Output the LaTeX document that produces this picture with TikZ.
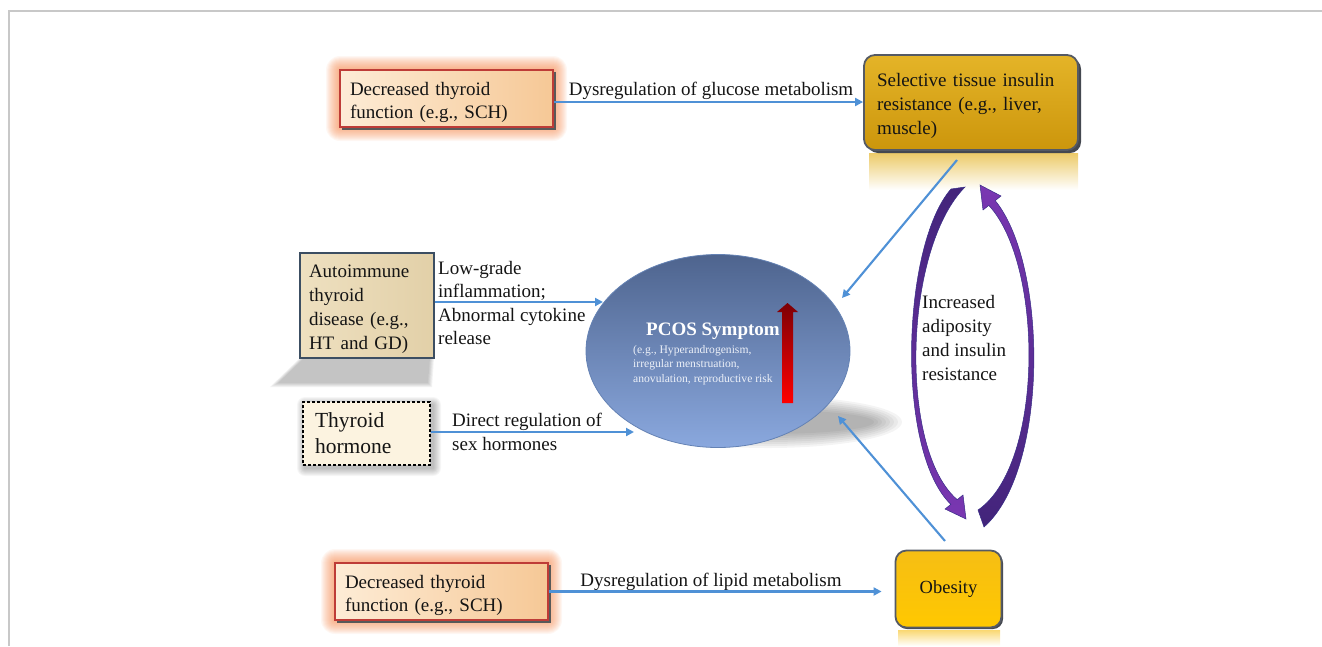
\documentclass[tikz,border=0pt]{standalone}
\usepackage{fontspec}
\setmainfont{Liberation Serif}
\usetikzlibrary{arrows.meta,shapes.geometric}
\definecolor{ablue}{RGB}{79,145,214}
\definecolor{txt}{RGB}{20,20,20}
\definecolor{framec}{RGB}{200,200,200}
\definecolor{glowc}{RGB}{245,135,75}
\definecolor{decred}{RGB}{190,60,55}
\definecolor{peachL}{RGB}{253,236,214}
\definecolor{peachR}{RGB}{246,200,150}
\definecolor{goldT}{RGB}{228,180,40}
\definecolor{goldB}{RGB}{204,150,12}
\definecolor{goldedge}{RGB}{85,90,100}
\definecolor{obT}{RGB}{246,190,20}
\definecolor{obB}{RGB}{255,200,0}
\definecolor{parch}{RGB}{238,224,192}
\definecolor{parchR}{RGB}{226,208,168}
\definecolor{aiedge}{RGB}{60,78,98}
\definecolor{thfill}{RGB}{252,243,224}
\definecolor{ellT}{RGB}{78,100,142}
\definecolor{ellB}{RGB}{138,168,222}
\definecolor{elledge}{RGB}{100,130,180}
\definecolor{pdark}{RGB}{66,36,122}
\definecolor{plight}{RGB}{122,55,178}
\definecolor{pedge}{RGB}{55,45,135}
\definecolor{smalltxt}{RGB}{236,240,248}
\newcommand\fntA{\fontsize{19}{23.5}\selectfont}
\newcommand\fntB{\fontsize{19}{24}\selectfont}
\newcommand\fntC{\fontsize{21.5}{26}\selectfont}
\newcommand\fntS{\fontsize{11.6}{14.6}\selectfont}
\newcommand\lift[1]{\rule{0pt}{#1}}
\begin{document}
\begin{tikzpicture}[x=1pt,y=-1pt,
  blueline/.style={draw=ablue, line width=2.1pt, -{Triangle[length=8pt,width=8pt]}},
  lbl/.style={font=\fntA, text=txt, inner sep=0pt, align=left},
  decbox/.style={rectangle, draw=decred, line width=1.3pt, left color=peachL, right color=peachR,
     minimum width=213pt, minimum height=57pt, text width=193pt, align=left, inner sep=0pt,
     font=\fntA, text=txt},
  goldbox/.style={rectangle, rounded corners=11pt, draw=goldedge, line width=1.8pt,
     top color=goldT, bottom color=goldB, inner sep=0pt, align=left, font=\fntB, text=txt},
  purplearc/.style={draw=pedge, line width=0.5pt}
]
\useasboundingbox (0,0) rectangle (1322,646);
% frame
\draw[framec, line width=1.3pt] (9,646) -- (9,11) -- (1322,11);

% glows of the two "decreased thyroid" boxes
\foreach \k in {1,...,14} {
  \fill[glowc, opacity=0.065, rounded corners=\k pt] ({340-\k},{70-\k}) rectangle ({553+\k},{127+\k});
  \fill[glowc, opacity=0.065, rounded corners=\k pt] ({335-\k},{563-\k}) rectangle ({548+\k},{620+\k});
}
\fill[black!65] (342,72) rectangle (555.5,129.5);
\fill[black!65] (337,565) rectangle (550.5,622.5);
\node[decbox] (dec1) at (446.5,98.5) {\lift{21pt}Decreased thyroid\\function (e.g., SCH)};
\node[decbox] (dec2) at (441.5,591.5) {\lift{21pt}Decreased thyroid\\function (e.g., SCH)};

% gold box: selective tissue insulin resistance
\shade[top color=goldT!70!white, bottom color=white] (869,153) rectangle (1078,190);
\fill[goldedge!80!black, rounded corners=11pt] (867,58) rectangle (1081,153);
\node[goldbox, minimum width=214pt, minimum height=95pt, text width=188pt] (sel) at (971,102.5)
  {\lift{19.5pt}Selective tissue insulin\\resistance (e.g., liver,\\muscle)};

% obesity box
\shade[top color=obT!60!white, bottom color=white] (898,630) rectangle (1000,646);
\fill[goldedge!80!black, rounded corners=10pt] (897,553) rectangle (1003,629);
\node[goldbox, top color=obT, bottom color=obB, minimum width=106pt, minimum height=77pt,
  font=\fontsize{18.5}{22}\selectfont] (obes) at (948.5,589) {Obesity};

% autoimmune box with perspective shadow
\foreach \k in {0,...,4} {
  \fill[black, opacity=0.05] ({300+\k},358) -- ({434-\k},358) -- ({432-\k},{387-\k}) -- ({270+2*\k},{387-\k}) -- cycle;
}
\node[rectangle, draw=aiedge, line width=1.8pt, left color=parch, right color=parchR,
  minimum width=134pt, minimum height=105pt, text width=116pt, align=left, inner sep=0pt,
  font=\fntB, text=txt] (aitd) at (367,305.5)
  {\lift{21pt}Autoimmune\\thyroid\\disease (e.g.,\\HT and GD)};

% thyroid hormone box with soft shadow
\foreach \k in {1,...,8} {
  \fill[black, opacity=0.035, rounded corners=\k pt] ({305-\k},{405-\k}) rectangle ({433+\k},{468+\k});
}
\node[rectangle, draw=black, line width=1.2pt, dash pattern=on 3pt off 2pt, fill=thfill,
  minimum width=127pt, minimum height=63pt, text width=103pt, align=left, inner sep=0pt,
  font=\fntC, text=txt] (thh) at (366.5,433.5) {Thyroid\\hormone};

% PCOS ellipse with shadow
\foreach \k in {0,...,7} {
  \fill[black, opacity=0.045] (768,422) ellipse [x radius={134-4*\k}, y radius={26-2*\k}];
}
\node[ellipse, draw=elledge, line width=0.8pt, top color=ellT, bottom color=ellB,
  minimum width=264pt, minimum height=193pt, inner sep=0pt] (pcos) at (718,351) {};
\node[font=\bfseries\fontsize{19}{22}\selectfont, text=white, inner sep=0pt] (pcost) at (713,331) {PCOS Symptom};
\node[font=\fntS, text=smalltxt, inner sep=0pt, align=left, anchor=north west] (pcoss) at (633,345)
  {(e.g., Hyperandrogenism,\\irregular menstruation,\\anovulation, reproductive risk};
% red arrow
\shade[top color={rgb,255:red,125;green,0;blue,5}, bottom color={rgb,255:red,255;green,0;blue,0}]
  (782,403) -- (782,312) -- (777,312) -- (787.5,303) -- (798,312) -- (793,312) -- (793,403) -- cycle;

% connector labels
\node[lbl] (lab1) at (711,91) {Dysregulation of glucose metabolism};
\node[lbl] (lab2) at (711,582) {Dysregulation of lipid metabolism};
\node[lbl, anchor=north west] (lab3) at (438,261) {Low-grade\\inflammation;\\Abnormal cytokine\\release};
\node[lbl, anchor=north west] (lab4) at (452,413) {Direct regulation of\\sex hormones};
\node[lbl, font=\fntB, anchor=north west] (lab5) at (922,295) {Increased\\adiposity\\and insulin\\resistance};

% connector end points
\coordinate (aitip) at (603,302);
\coordinate (thtip) at (634,432);
\coordinate (selfoot) at (957,160);
\coordinate (pcosNE) at (842,298);
\coordinate (obtop) at (945,541);
\coordinate (pcosSE) at (838,416);

% connectors
\draw[blueline] ([yshift=-3.5pt]dec1.east) -- ([yshift=-3.5pt]dec1.east -| sel.west);
\draw[blueline] (dec2.east) -- ([xshift=-13pt]dec2.east -| obes.west);
\draw[blueline] (aitd.east |- aitip) -- (aitip);
\draw[blueline] (thh.east |- thtip) -- (thtip);
\draw[blueline] (selfoot) -- (pcosNE);
\draw[blueline] (obtop) -- (pcosSE);

% purple cycle arrows
\shade[purplearc, top color=pdark, bottom color=plight]
  (951,189) .. controls (902,245) and (895,450) .. (950.8,504.4)
  -- (945,509) -- (966,519) -- (963,495) -- (957.2,499.6)
  .. controls (899,450) and (903,250) .. (965,187) -- cycle;
\shade[purplearc, top color=plight, bottom color=pdark]
  (984,527) .. controls (1049,470) and (1048,265) .. (995.2,200.6)
  -- (1001,196) -- (980,185) -- (983,210) -- (988.8,205.4)
  .. controls (1044,265) and (1044,465) .. (978,510) -- cycle;
\end{tikzpicture}
\end{document}
